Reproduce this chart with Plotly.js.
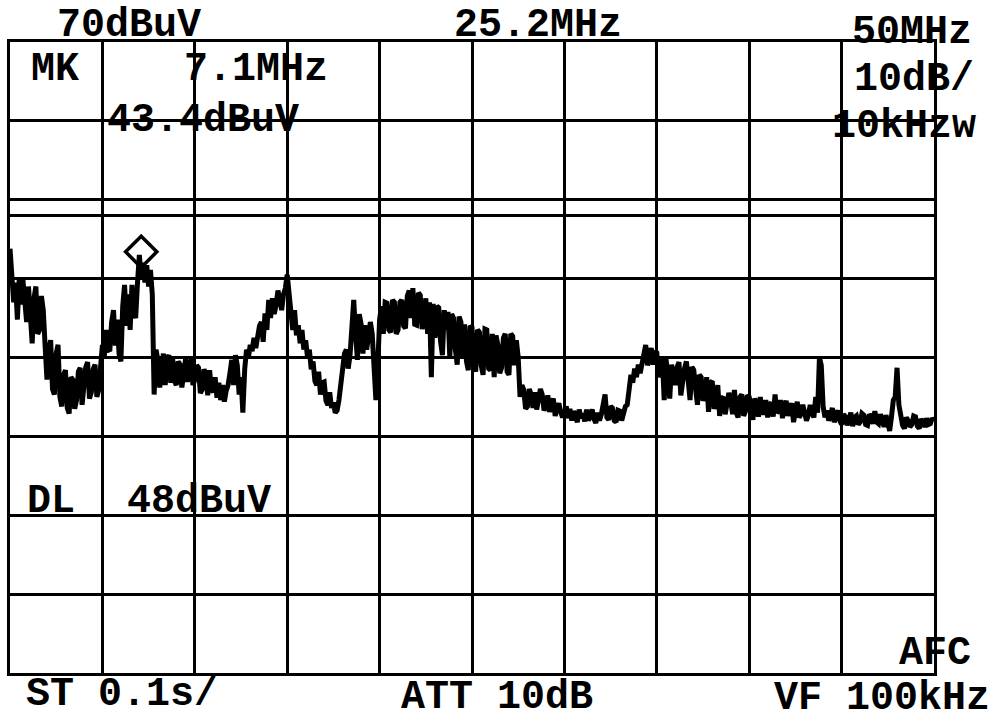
<!DOCTYPE html>
<html>
<head>
<meta charset="utf-8">
<script src="https://cdn.plot.ly/plotly-3.0.1.min.js"></script>
<style>html,body{margin:0;padding:0;background:#fff;}#chart{width:1000px;height:721px;}</style>
</head>
<body>
<div id="chart"></div>
<script>
// Sweep frequencies (MHz), one row per MHz
const freqMHz = [
0,0.1,0.2,0.3,0.4,0.5,0.6,0.7,0.8,0.9,
1,1.1,1.2,1.3,1.4,1.5,1.6,1.7,1.8,1.9,
2,2.1,2.2,2.3,2.4,2.5,2.6,2.7,2.8,2.9,
3,3.1,3.2,3.3,3.4,3.5,3.6,3.7,3.8,3.9,
4,4.1,4.2,4.3,4.4,4.5,4.6,4.7,4.8,4.9,
5,5.1,5.2,5.3,5.4,5.5,5.6,5.7,5.8,5.9,
6,6.1,6.2,6.3,6.4,6.5,6.6,6.7,6.8,6.9,
7,7.1,7.2,7.3,7.4,7.5,7.6,7.7,7.8,7.9,
8,8.1,8.2,8.3,8.4,8.5,8.6,8.7,8.8,8.9,
9,9.1,9.2,9.3,9.4,9.5,9.6,9.7,9.8,9.9,
10,10.1,10.2,10.3,10.4,10.5,10.6,10.7,10.8,10.9,
11,11.1,11.2,11.3,11.4,11.5,11.6,11.7,11.8,11.9,
12,12.1,12.2,12.3,12.4,12.5,12.6,12.7,12.8,12.9,
13,13.1,13.2,13.3,13.4,13.5,13.6,13.7,13.8,13.9,
14,14.1,14.2,14.3,14.4,14.5,14.6,14.7,14.8,14.9,
15,15.1,15.2,15.3,15.4,15.5,15.6,15.7,15.8,15.9,
16,16.1,16.2,16.3,16.4,16.5,16.6,16.7,16.8,16.9,
17,17.1,17.2,17.3,17.4,17.5,17.6,17.7,17.8,17.9,
18,18.1,18.2,18.3,18.4,18.5,18.6,18.7,18.8,18.9,
19,19.1,19.2,19.3,19.4,19.5,19.6,19.7,19.8,19.9,
20,20.1,20.2,20.3,20.4,20.5,20.6,20.7,20.8,20.9,
21,21.1,21.2,21.3,21.4,21.5,21.6,21.7,21.8,21.9,
22,22.1,22.2,22.3,22.4,22.5,22.6,22.7,22.8,22.9,
23,23.1,23.2,23.3,23.4,23.5,23.6,23.7,23.8,23.9,
24,24.1,24.2,24.3,24.4,24.5,24.6,24.7,24.8,24.9,
25,25.1,25.2,25.3,25.4,25.5,25.6,25.7,25.8,25.9,
26,26.1,26.2,26.3,26.4,26.5,26.6,26.7,26.8,26.9,
27,27.1,27.2,27.3,27.4,27.5,27.6,27.7,27.8,27.9,
28,28.1,28.2,28.3,28.4,28.5,28.6,28.7,28.8,28.9,
29,29.1,29.2,29.3,29.4,29.5,29.6,29.7,29.8,29.9,
30,30.1,30.2,30.3,30.4,30.5,30.6,30.7,30.8,30.9,
31,31.1,31.2,31.3,31.4,31.5,31.6,31.7,31.8,31.9,
32,32.1,32.2,32.3,32.4,32.5,32.6,32.7,32.8,32.9,
33,33.1,33.2,33.3,33.4,33.5,33.6,33.7,33.8,33.9,
34,34.1,34.2,34.3,34.4,34.5,34.6,34.7,34.8,34.9,
35,35.1,35.2,35.3,35.4,35.5,35.6,35.7,35.8,35.9,
36,36.1,36.2,36.3,36.4,36.5,36.6,36.7,36.8,36.9,
37,37.1,37.2,37.3,37.4,37.5,37.6,37.7,37.8,37.9,
38,38.1,38.2,38.3,38.4,38.5,38.6,38.7,38.8,38.9,
39,39.1,39.2,39.3,39.4,39.5,39.6,39.7,39.8,39.9,
40,40.1,40.2,40.3,40.4,40.5,40.6,40.7,40.8,40.9,
41,41.1,41.2,41.3,41.4,41.5,41.6,41.7,41.8,41.9,
42,42.1,42.2,42.3,42.4,42.5,42.6,42.7,42.8,42.9,
43,43.1,43.2,43.3,43.4,43.5,43.6,43.7,43.8,43.9,
44,44.1,44.2,44.3,44.4,44.5,44.6,44.7,44.8,44.9,
45,45.1,45.2,45.3,45.4,45.5,45.6,45.7,45.8,45.9,
46,46.1,46.2,46.3,46.4,46.5,46.6,46.7,46.8,46.9,
47,47.1,47.2,47.3,47.4,47.5,47.6,47.7,47.8,47.9,
48,48.1,48.2,48.3,48.4,48.5,48.6,48.7,48.8,48.9,
49,49.1,49.2,49.3,49.4,49.5,49.6,49.7,49.8,49.9,
50];
// Measured level (dBuV), one row per MHz
const levelDBuV = [
43.8,40.2,37.0,39.5,34.8,40.0,36.7,39.8,37.3,34.5,
39.0,34.2,31.8,37.5,39.0,33.0,33.5,37.8,36.0,31.5,
27.2,31.0,32.2,26.0,25.3,30.5,31.6,25.0,23.8,27.8,
28.4,23.6,22.9,27.5,27.2,23.5,24.6,28.2,28.7,24.0,
25.9,28.8,29.4,24.8,25.6,28.5,29.1,25.0,25.9,29.0,
31.6,30.0,33.5,31.0,30.8,34.5,36.0,31.5,34.8,30.5,
29.5,36.5,39.2,34.0,38.0,33.5,39.2,36.0,35.0,39.5,
43.0,40.0,42.0,39.5,41.7,39.0,41.1,38.0,25.3,31.0,
29.7,26.2,27.8,30.5,26.5,29.8,30.3,26.8,29.9,27.0,
26.5,29.5,29.1,26.2,28.7,29.8,26.9,28.9,29.9,26.5,
27.2,29.0,28.7,25.5,25.9,28.5,27.8,25.2,28.4,26.0,
25.6,27.5,24.9,26.8,24.6,26.5,24.4,25.8,26.5,28.0,
29.7,26.5,30.3,29.0,25.3,27.5,23.0,28.5,31.0,30.0,
31.6,30.8,32.5,31.2,32.9,34.0,34.5,32.0,35.6,33.5,
37.3,35.0,37.5,35.5,36.7,38.5,37.3,36.0,38.0,38.8,
40.5,38.0,36.0,33.5,36.0,32.8,34.1,31.8,33.5,31.0,
32.2,30.0,31.0,28.5,29.5,27.0,26.5,28.2,25.3,26.8,
26.9,24.5,24.0,25.6,23.6,24.3,23.0,23.3,24.6,26.5,
28.4,30.5,31.0,28.6,30.3,34.0,37.3,33.0,29.7,35.5,
34.2,30.5,34.1,31.0,32.5,34.5,33.0,29.0,24.6,29.0,
34.8,36.5,33.0,37.0,36.9,33.5,33.2,37.3,37.0,33.0,
33.5,37.0,37.3,34.0,33.7,37.8,38.5,35.0,38.8,34.2,
34.1,38.2,37.9,33.6,34.8,37.5,33.0,37.0,27.5,36.8,
32.5,36.5,36.3,32.0,30.3,36.0,33.5,35.8,30.0,35.5,
35.0,31.0,29.1,35.2,34.5,30.0,34.2,29.5,28.4,34.0,
33.8,29.5,28.2,33.5,33.2,29.0,27.8,33.6,33.5,28.6,
28.4,33.0,27.5,32.8,31.6,28.0,28.7,32.5,33.0,28.2,
27.8,33.0,32.7,29.0,32.2,30.0,25.0,26.5,25.9,23.5,
23.8,26.0,25.3,23.6,25.6,23.4,24.9,26.0,25.3,23.3,
23.8,25.2,23.1,24.0,24.8,22.6,23.4,24.2,23.1,22.4,
23.0,23.8,22.3,23.5,22.0,23.2,22.6,21.8,23.4,22.3,
22.9,21.9,23.4,22.0,22.6,23.4,22.2,21.7,23.0,22.0,
22.8,24.0,25.3,22.4,22.1,23.8,23.6,22.0,21.8,23.3,
23.2,22.0,22.8,23.8,24.0,26.5,27.8,26.8,28.6,27.5,
29.1,28.0,29.4,31.0,31.6,29.0,30.4,31.2,29.1,30.8,
30.6,27.5,28.7,30.0,24.6,29.8,27.5,24.8,29.1,28.0,
26.5,28.8,29.4,25.2,27.2,28.6,29.5,26.0,24.6,28.8,
28.4,26.0,24.0,27.8,27.5,24.5,25.3,27.5,23.1,26.8,
27.0,23.5,24.3,26.5,22.6,24.8,25.0,22.8,23.8,25.5,
24.6,22.8,25.9,23.0,22.4,25.0,25.3,22.6,23.2,25.2,
25.0,23.0,22.1,24.8,24.0,22.5,25.0,23.0,23.0,24.6,
22.4,24.0,24.3,22.5,25.3,23.0,23.2,24.6,22.3,23.8,
24.5,22.6,23.5,24.2,21.8,23.6,24.4,22.4,22.8,24.0,
23.2,22.0,22.7,24.0,23.0,22.4,25.0,23.0,30.0,29.0,
23.8,22.4,23.3,22.0,22.7,23.6,21.8,22.8,23.3,22.0,
21.5,22.8,22.5,21.4,22.0,23.0,21.3,22.4,22.6,21.5,
21.8,22.9,22.7,21.5,21.4,22.8,22.5,21.6,23.2,21.8,
21.6,22.8,22.0,21.2,22.7,21.5,20.7,22.5,24.6,25.0,
28.7,24.0,22.2,21.4,21.0,22.4,22.0,21.2,21.5,22.6,
22.5,21.3,21.0,22.2,21.8,21.2,22.3,21.5,21.6,22.3,
22.0];

// Marker and display line
const markerMHz = [7.1];
const markerDBuV = [43.4];
const displayLineDBuV = 48;
const refLevelDBuV = 70;
const dbPerDiv = 10;
const spanMHz = [0, 50];

// Screen texts
const labels = {
  ref: "70dBuV", center: "25.2MHz", stop: "50MHz",
  mk: "MK", mkFreq: "7.1MHz", mkLevel: "43.4dBuV",
  scale: "10dB/", rbw: "10kHzw",
  dl: "DL", dlLevel: "48dBuV",
  st: "ST 0.1s/", att: "ATT 10dB", afc: "AFC", vf: "VF 100kHz"
};

const FONT = {family: "Liberation Mono, DejaVu Sans Mono, monospace", size: 40, color: "#000", weight: "bold"};
// plot area: x 10..934, y 42..673 px
function px(X){ return (X - 10) / 924; }
function py(Y){ return (673 - Y) / 631; }
function ann(text, X, Y){
  return {text: text, xref: "paper", yref: "paper", x: px(X), y: py(Y),
          xanchor: "left", yanchor: "middle", showarrow: false, font: FONT,
          borderpad: 0};
}

const traces = [
  {x: freqMHz, y: levelDBuV, type: "scatter", mode: "lines",
   line: {color: "#000", width: 5, shape: "linear"}, hoverinfo: "skip"},
  {x: markerMHz, y: markerDBuV, type: "scatter", mode: "markers",
   marker: {symbol: "diamond-open", size: 24, color: "#000", line: {width: 3.5, color: "#000"}},
   hoverinfo: "skip"}
];

const layout = {
  width: 1000, height: 721,
  margin: {l: 10, r: 66, t: 42, b: 48, pad: 0},
  paper_bgcolor: "#fff", plot_bgcolor: "#fff",
  showlegend: false,
  xaxis: {range: spanMHz, dtick: 5, tick0: 0, showgrid: true, gridcolor: "#000", gridwidth: 3,
          showticklabels: false, ticks: "", zeroline: false,
          showline: true, linecolor: "#000", linewidth: 3, mirror: true, fixedrange: true},
  yaxis: {range: [refLevelDBuV - 8 * dbPerDiv, refLevelDBuV], dtick: dbPerDiv, tick0: -10,
          showgrid: true, gridcolor: "#000", gridwidth: 3,
          showticklabels: false, ticks: "", zeroline: false,
          showline: true, linecolor: "#000", linewidth: 3, mirror: true, fixedrange: true},
  shapes: [
    {type: "line", xref: "paper", x0: 0, x1: 1, yref: "y", y0: displayLineDBuV, y1: displayLineDBuV,
     line: {color: "#000", width: 3}}
  ],
  annotations: [
    ann(labels.ref, 56, 25),
    ann(labels.center, 453, 25),
    ann(labels.stop, 851, 32),
    ann(labels.mk, 30, 70),
    ann(labels.mkFreq, 183, 70),
    ann(labels.mkLevel, 106, 120),
    ann(labels.scale, 853, 80),
    ann(labels.rbw, 831, 127),
    ann(labels.dl, 26, 501),
    ann(labels.dlLevel, 126, 501),
    ann(labels.st, 25, 695),
    ann(labels.att, 400, 697),
    ann(labels.afc, 898, 653),
    ann(labels.vf, 773, 698)
  ]
};

Plotly.newPlot("chart", traces, layout, {staticPlot: true, displayModeBar: false});
</script>
</body>
</html>
